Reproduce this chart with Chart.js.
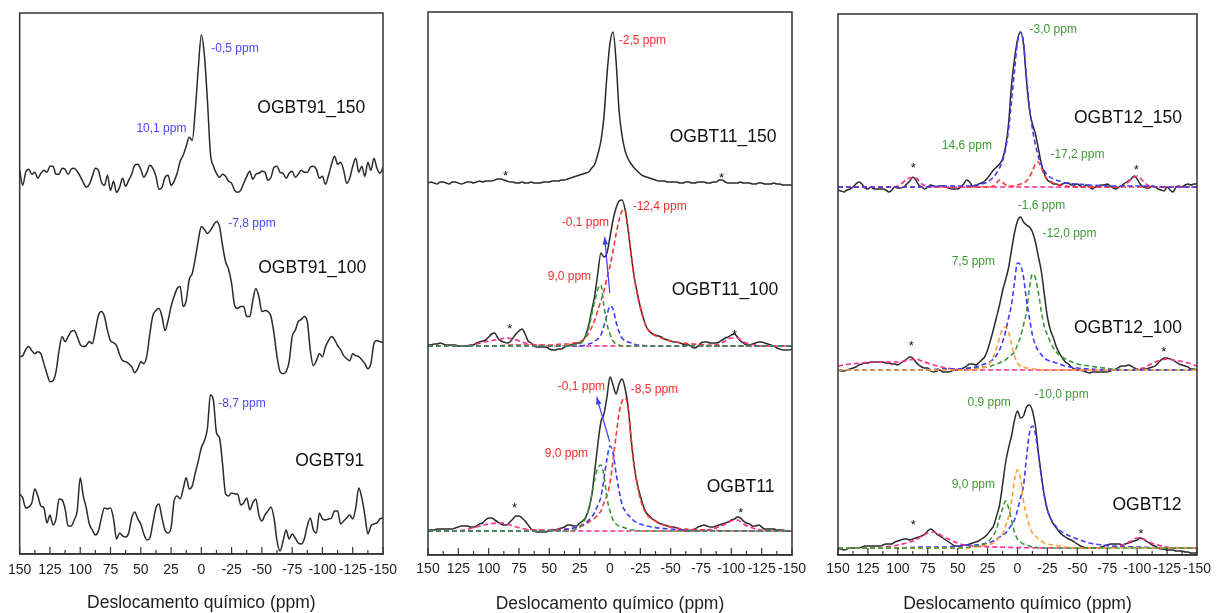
<!DOCTYPE html>
<html>
<head>
<meta charset="utf-8">
<script src="https://cdn.jsdelivr.net/npm/chart.js@4.4.1/dist/chart.umd.min.js"></script>
<style>
  body { margin: 0; background: #fff; width: 1217px; height: 613px; overflow: hidden; position: relative; }
  canvas { position: absolute; top: 0; }
</style>
</head>
<body>
<canvas id="c91"></canvas>
<canvas id="c11"></canvas>
<canvas id="c12"></canvas>
<script>
// chemical shift grid (ppm) shared by all measured spectra
const ppm = [
  150,147.5,145,142.5,140,137.5,135,132.5,130,127.5,
  125,122.5,120,117.5,115,112.5,110,107.5,105,102.5,
  100,97.5,95,92.5,90,87.5,85,82.5,80,77.5,
  75,72.5,70,67.5,65,62.5,60,57.5,55,52.5,
  50,47.5,45,42.5,40,37.5,35,32.5,30,27.5,
  25,22.5,20,17.5,15,12.5,10,7.5,5,2.5,
  0,-2.5,-5,-7.5,-10,-12.5,-15,-17.5,-20,-22.5,
  -25,-27.5,-30,-32.5,-35,-37.5,-40,-42.5,-45,-47.5,
  -50,-52.5,-55,-57.5,-60,-62.5,-65,-67.5,-70,-72.5,
  -75,-77.5,-80,-82.5,-85,-87.5,-90,-92.5,-95,-97.5,
  -100,-102.5,-105,-107.5,-110,-112.5,-115,-117.5,-120,-122.5,
  -125,-127.5,-130,-132.5,-135,-137.5,-140,-142.5,-145,-147.5,
  -150
];

// measured spectra (intensity, a.u.)
const ogbt91_150 = [
  10,-5,8,11,6,8,2,7,10,8, 14,14,6,6,12,11,6,11,12,9,
  4,-2,-7,-4,4,12,10,-2,-5,5, -10,-1,-12,-7,2,-6,0,6,15,16,
  11,3,8,15,12,4,-9,-7,3,5, -5,-1,7,19,25,34,43,40,70,112,
  145,125,80,27,14,7,3,6,4,-1, -3,-10,-12,-10,-3,4,9,1,6,7,
  9,8,0,3,13,14,8,7,2,7, 9,3,6,10,8,8,13,14,11,2,
  4,-4,5,16,24,16,18,10,-3,2, 14,22,8,14,4,18,10,22,12,7,13
];
const ogbt91_100 = [
  17,18,24,27,23,20,22,20,10,0, -8,-7,2,23,37,32,37,42,43,37,
  29,27,28,32,30,43,58,62,57,43, 33,31,28,19,13,12,10,7,1,5,
  12,10,18,40,58,63,65,57,43,53, 67,77,85,87,67,73,94,100,115,133,
  147,144,140,143,148,152,147,128,112,104, 90,68,65,67,67,57,57,73,85,77,
  62,63,62,57,40,17,2,0,2,12, 37,43,52,54,57,52,23,8,13,20,
  17,27,33,37,34,28,24,18,15,13, 20,18,17,14,10,5,10,30,33,32,31
];
const ogbt91 = [
  47,43,33,34,38,52,45,35,33,18, 26,16,22,42,41,32,15,15,21,30,
  63,45,33,17,11,6,10,23,33,32, 33,22,2,8,5,4,8,23,29,22,
  17,7,1,3,18,33,37,23,11,8, 13,40,45,42,52,63,52,55,68,80,
  93,100,112,146,140,108,103,77,47,45, 48,47,47,36,38,43,31,38,42,26,
  20,26,30,34,23,0,-10,0,11,2, 7,3,-2,-3,2,15,23,11,8,28,
  22,21,22,23,30,30,17,20,23,26, 22,33,53,43,26,7,15,17,18,22,23
];
const ogbt11_150 = [
  0,1,0,-1,1,1,0,-1,1,1, 0,-1,0,1,1,0,1,2,1,2,
  2,2,3,4,4,3,2,1,1,0, 0,1,0,0,1,0,0,0,1,1,
  1,2,2,2,3,3,4,5,6,7, 8,9,10,11,15,19,29,42,66,108,
  140,151,122,72,47,32,24,19,15,12, 9,7,6,5,4,3,2,2,2,1,
  1,1,1,0,0,1,1,0,0,1, 1,1,0,0,1,1,3,3,1,0,
  0,0,0,1,0,0,0,-1,-1,0, 0,-1,-1,-1,0,-1,-1,-2,-2,-2,-2
];
const ogbt11_100 = [
  1,1,2,2,3,2,1,1,1,1, 0,0,0,0,1,1,3,4,5,6,
  9,12,13,8,5,4,3,4,8,12, 15,17,12,5,3,0,-1,-1,-1,-1,
  -3,-4,-4,-3,-3,-1,0,1,2,3, 3,5,11,21,36,51,73,93,89,93,
  109,126,138,145,146,136,116,91,69,53, 39,28,19,15,12,11,10,9,7,6,
  5,4,4,3,2,1,1,-1,-2,0, 3,4,4,3,3,3,4,6,8,9,
  11,12,9,5,3,1,1,2,3,4, 4,3,2,1,0,-2,-3,-4,-4,-4,-3
];
const ogbt11 = [
  1,1,1,2,2,2,2,2,2,3, 4,5,5,5,4,4,5,7,8,11,
  13,13,11,9,7,6,6,9,12,15, 15,13,10,6,2,0,-1,-1,-1,-1,
  0,1,1,2,3,4,6,6,5,5, 8,10,14,22,36,61,87,109,117,134,
  154,146,137,147,152,142,124,91,64,47, 35,25,18,15,12,10,8,7,6,5,
  4,4,3,2,1,0,0,1,2,4, 5,6,5,4,4,5,6,7,8,9,
  11,12,14,13,10,8,7,5,5,6, 4,2,2,2,2,1,1,1,0,0,0
];
const ogbt12_150 = [
  -3,-4,-5,-3,-2,0,3,5,3,-1, -2,0,-2,-2,-2,-2,-3,-5,-3,0,
  -1,-1,0,3,6,10,7,2,0,-2, 0,2,1,0,1,1,0,-1,-2,-2,
  -2,0,3,7,5,1,1,3,4,6, 9,13,17,20,23,28,40,63,102,128,
  147,155,143,107,77,63,53,38,23,13, 7,5,3,3,2,3,4,4,2,2,
  3,1,0,2,0,-2,0,1,2,2, 3,1,-1,-2,0,2,4,6,8,11,
  8,3,0,-1,-1,1,0,-2,-3,-4, 0,-3,-5,0,1,0,2,3,2,3,3
];
const ogbt12_100 = [
  0,-1,-1,0,1,2,3,5,6,7, 7,8,8,8,8,8,7,7,6,6,
  5,7,9,11,13,12,8,5,3,2, 2,-1,-2,-1,0,-2,-2,-2,-1,0,
  0,1,2,4,6,6,5,7,10,13, 20,30,41,53,65,79,90,102,120,137,
  149,153,148,145,143,138,128,113,98,75, 53,40,32,23,17,12,8,6,3,1,
  0,0,-1,-2,-3,-2,-2,-2,-2,-2, -2,-1,0,1,3,4,4,5,4,2,
  1,0,1,1,2,3,4,7,10,12, 12,11,10,8,6,5,4,3,1,1,0
];
const ogbt12 = [
  -1,-1,-2,-1,0,0,0,0,1,2, 2,2,2,2,2,3,4,4,4,6,
  7,8,9,9,8,9,10,11,12,14, 17,19,17,14,12,10,8,6,4,2,
  2,2,3,3,4,5,6,7,9,11, 14,18,22,32,43,63,85,100,112,128,
  137,130,132,141,143,137,122,95,72,52, 38,30,24,20,16,13,11,9,8,6,
  4,2,1,0,0,0,0,0,1,2, 3,4,4,4,4,3,4,5,6,7,
  8,10,9,7,5,3,2,0,-1,-1, -2,-2,-2,-3,-3,-3,-4,-4,-5,-5,-5
];

// deconvolution components
const fitPpm = [150,125,100,80,60,50,40,35,30,25, 20,17.5,15,12.5,10,7.5,5,2.5,0,-2.5,
  -5,-7.5,-10,-12.5,-15,-17.5,-20,-22.5,-25,-30, -35,-40,-50,-60,-80,-100,-125,-150];
const fit11_100_q9 = [0,0,0,0,0,0,0,0,1,2, 10,18,32,45,57,61,40,22,12,5, 2,1,0,0,0,0,0,0,0,0, 0,0,0,0,0,0,0,0];
const fit11_100_q0 = [0,0,0,0,0,0,0,0,0,0, 1,2,3,5,7,11,20,31,40,37, 24,14,8,5,4,3,2,1,1,0, 0,0,0,0,0,0,0,0];
const fit11_100_q12 = [0,0,0,1,1,1,2,2,3,4, 9,13,19,26,36,45,55,68,80,95, 112,126,135,136,115,90,68,52,38,19, 12,9,5,3,1,0,0,0];
const fit11_q9 = [0,0,0,0,0,0,0,0,1,4, 13,22,36,52,63,66,55,33,20,11, 7,5,4,3,2,1,1,0,0,0, 0,0,0,0,0,0,0,0];
const fit11_q0 = [0,0,0,0,0,0,1,2,3,5, 8,11,14,19,26,34,52,72,85,78, 58,40,26,20,16,13,10,8,7,5, 4,3,2,1,0,0,0,0];
const fit11_q8 = [0,0,0,0,1,1,2,2,3,4, 7,9,11,13,16,20,28,36,48,71, 95,118,130,133,122,92,66,46,32,17, 12,8,4,2,1,0,0,0];
const fit12_150_q3 = [0,0,0,0,1,1,1,2,3,5, 10,14,19,26,38,57,86,116,145,155, 145,110,80,58,42,30,22,16,12,8, 6,4,3,2,1,1,0,0];
const fit12_150_q17 = [0,0,0,0,0,0,0,0,0,0, 1,4,7,5,2,1,1,1,2,3, 4,6,10,16,23,25,19,12,8,4, 2,1,0,0,0,0,0,0];
const fit12_100_q7 = [0,0,0,0,0,0,0,1,2,4, 14,22,32,41,43,38,26,14,7,4, 3,2,2,1,1,0,0,0,0,0, 0,0,0,0,0,0,0,0];
const fit12_100_q1 = [0,0,0,0,1,1,2,3,5,7, 11,15,20,28,38,52,65,88,107,105, 93,70,52,35,25,19,15,12,10,8, 6,4,2,1,0,0,0,0];
const fit12_100_q12 = [0,0,0,0,1,1,2,2,3,3, 5,6,7,9,10,13,15,18,25,33, 45,58,82,96,92,77,58,43,35,22, 15,11,6,4,1,0,0,0];
const fit12_q9 = [0,0,0,0,0,0,1,2,3,6, 13,19,30,39,47,40,28,16,9,6, 4,3,2,1,1,0,0,0,0,0, 0,0,0,0,0,0,0,0];
const fit12_q1 = [0,0,0,0,0,0,0,1,2,3, 5,7,11,14,22,31,46,68,78,70, 47,33,22,15,12,9,7,5,4,3, 2,1,0,0,0,0,0,0];
const fit12_q10 = [0,0,0,1,1,2,3,3,4,5, 7,9,11,13,15,19,23,28,38,50, 62,90,115,122,114,93,70,52,38,25, 18,14,9,5,2,1,0,0];

// spinning sidebands
const sbPpm = [150,140,130,120,110,100,90,85,80,70, 60,40,-60,-80,-90,-95,-100,-105,-110,-120, -125,-130,-140,-150];
const sb11_100 = [0,0,0,0,2,5,7,8,7,3, 1,0,0,0,2,5,8,8,4,1, 0,0,0,0];
const sb11 = [0,0,0,1,4,7,8,7,5,2, 1,0,0,1,4,7,10,11,7,2, 1,0,0,0];
const sb12_150 = [0,0,0,0,0,1,9,9,3,0, 0,0,0,0,2,8,11,6,1,0, 0,0,0,0];
const sb12_100 = [4,6,7,8,8,8,10,11,9,5, 2,0,0,0,0,0,1,2,5,10, 11,10,8,4];
const sb12 = [0,0,0,0,1,3,6,8,12,16, 10,2,0,1,4,7,10,9,6,2, 1,0,0,0];

// axis tick labels
const tickValues = [150,125,100,75,50,25,0,-25,-50,-75,-100,-125,-150];

// peak assignments: [text, ppm, height]
const peaks91 = [['-0,5 ppm', -8.2, 504], ['10,1 ppm', 53.6, 425], ['-7,8 ppm', -22.3, 330], ['-8,7 ppm', -14, 150]];
const peaks11 = [['-2,5 ppm', -7.2, 514], ['-12,4 ppm', -18.7, 348], ['-0,1 ppm', 39.8, 332], ['9,0 ppm', 51.3, 278],
  ['-0,1 ppm', 43.1, 168], ['-8,5 ppm', -17.1, 165], ['9,0 ppm', 53.8, 101]];
const peaks12 = [['-3,0 ppm', -10.1, 525], ['14,6 ppm', 63.2, 409], ['-17,2 ppm', -27.5, 400], ['-1,6 ppm', -0.3, 349],
  ['-12,0 ppm', -20.9, 321], ['7,5 ppm', 55, 293], ['0,9 ppm', 41.8, 152], ['-10,0 ppm', -14.3, 160], ['9,0 ppm', 55, 70]];
const names91 = [['OGBT91_150', -46.2, 445], ['OGBT91_100', -47, 285], ['OGBT91', -77.5, 93]];
const names11 = [['OGBT11_150', -49.2, 418], ['OGBT11_100', -50.8, 265], ['OGBT11', -79.7, 68]];
const names12 = [['OGBT12_150', -47.2, 437], ['OGBT12_100', -47.2, 227], ['OGBT12', -79.4, 50]];
const stars11 = [[86, 383], [-92, 381], [82.7, 230], [-102.7, 224], [78.6, 51], [-107.7, 46]];
const stars12 = [[87.1, 391], [-99.2, 389], [88.8, 213], [-122.2, 207], [87.1, 34], [-103.3, 25]];
const arrows11 = [[[0.2, 262], [4.4, 318]], [[0.2, 113], [11, 158]]];

const FONT = '"Liberation Sans", Arial, sans-serif';
const C = { line: '#2a2a2a', green: '#3c9a3c', blue: '#3d3dff', red: '#ff3333', pink: '#ff2a90', orange: '#ffa133' };

function pts(xs, vs, base) {
  return xs.map((x, i) => ({ x: x, y: base + vs[i] }));
}
function trace(vs, base) {
  return { data: pts(ppm, vs, base), borderColor: C.line, borderWidth: 1.5, order: 2 };
}
function comp(xs, vs, base, color, order) {
  return { data: pts(xs, vs, base), borderColor: color, borderWidth: 1.6, borderDash: [5, 3], order: order || 1 };
}

// box around the plot area plus inward ticks every 12.5 ppm
const frame = {
  id: 'frame',
  afterDatasetsDraw(chart) {
    const { ctx, chartArea: a } = chart;
    const x = chart.scales.x;
    ctx.save();
    ctx.strokeStyle = '#333';
    ctx.lineWidth = 1.5;
    ctx.strokeRect(a.left, a.top, a.right - a.left, a.bottom - a.top);
    ctx.lineWidth = 1.2;
    for (let v = -150; v <= 150; v += 12.5) {
      const px = x.getPixelForValue(v);
      const len = v % 25 === 0 ? 7 : 4;
      ctx.beginPath();
      ctx.moveTo(px, a.bottom);
      ctx.lineTo(px, a.bottom - len);
      ctx.stroke();
    }
    ctx.restore();
  }
};

function notes(peaks, color, names, stars, arrows) {
  return {
    id: 'notes',
    afterDatasetsDraw(chart) {
      const { ctx } = chart;
      const x = chart.scales.x, y = chart.scales.y;
      ctx.save();
      ctx.textBaseline = 'middle';
      ctx.textAlign = 'left';
      ctx.fillStyle = color;
      ctx.font = '12px ' + FONT;
      peaks.forEach(p => ctx.fillText(p[0], x.getPixelForValue(p[1]), y.getPixelForValue(p[2])));
      ctx.fillStyle = '#111';
      ctx.font = '17.5px ' + FONT;
      names.forEach(n => ctx.fillText(n[0], x.getPixelForValue(n[1]), y.getPixelForValue(n[2])));
      ctx.textAlign = 'center';
      ctx.font = '13px ' + FONT;
      (stars || []).forEach(s => ctx.fillText('*', x.getPixelForValue(s[0]), y.getPixelForValue(s[1]) + 4));
      ctx.strokeStyle = C.blue;
      ctx.fillStyle = C.blue;
      ctx.lineWidth = 1.2;
      (arrows || []).forEach(ar => {
        const x0 = x.getPixelForValue(ar[0][0]), y0 = y.getPixelForValue(ar[0][1]);
        const x1 = x.getPixelForValue(ar[1][0]), y1 = y.getPixelForValue(ar[1][1]);
        const ang = Math.atan2(y1 - y0, x1 - x0);
        ctx.beginPath();
        ctx.moveTo(x0, y0);
        ctx.lineTo(x1, y1);
        ctx.stroke();
        ctx.beginPath();
        ctx.moveTo(x1, y1);
        ctx.lineTo(x1 - 8 * Math.cos(ang - 0.35), y1 - 8 * Math.sin(ang - 0.35));
        ctx.lineTo(x1 - 8 * Math.cos(ang + 0.35), y1 - 8 * Math.sin(ang + 0.35));
        ctx.closePath();
        ctx.fill();
      });
      ctx.restore();
    }
  };
}

function panel(id, geo, datasets, notePlugin) {
  const cv = document.getElementById(id);
  cv.width = geo.width;
  cv.height = 613;
  cv.style.left = geo.left + 'px';
  return new Chart(cv, {
    type: 'line',
    data: { datasets: datasets },
    plugins: [frame, notePlugin],
    options: {
      responsive: false,
      animation: false,
      events: [],
      layout: { padding: geo.pad },
      elements: { point: { radius: 0 }, line: { cubicInterpolationMode: 'monotone', fill: false } },
      plugins: { legend: { display: false }, tooltip: { enabled: false } },
      scales: {
        x: {
          type: 'linear', min: -150, max: 150, reverse: true,
          afterBuildTicks: s => { s.ticks = tickValues.map(v => ({ value: v })); },
          afterFit: s => { s.height = 58; },
          ticks: { autoSkip: false, maxRotation: 0, padding: geo.tickPad, color: '#1e1e1e',
                   font: { family: FONT, size: 14 }, callback: v => String(v) },
          grid: { drawOnChartArea: false, drawTicks: false },
          border: { display: true, color: '#333', width: 1.5 },
          title: { display: true, text: 'Deslocamento químico (ppm)', color: '#1e1e1e',
                   font: { family: FONT, size: 17.5, lineHeight: 1 }, padding: { top: 0, bottom: 0 } }
        },
        y: { display: false, min: 0, max: geo.ymax }
      }
    }
  });
}

panel('c91', { left: 0, width: 413, pad: { left: 19, right: 30, top: 13, bottom: 1 }, ymax: 540, tickPad: 8 }, [
  trace(ogbt91_150, 373),
  trace(ogbt91_100, 180),
  trace(ogbt91, 13)
], notes(peaks91, '#4848ff', names91));

panel('c11', { left: 398, width: 424, pad: { left: 30, right: 30, top: 12, bottom: 0 }, ymax: 543, tickPad: 6 }, [
  trace(ogbt11_150, 372),
  trace(ogbt11_100, 209),
  comp(fitPpm, fit11_100_q9, 209, C.green),
  comp(fitPpm, fit11_100_q0, 209, C.blue),
  comp(fitPpm, fit11_100_q12, 209, C.red),
  comp(sbPpm, sb11_100, 209, C.pink, 0),
  trace(ogbt11, 24),
  comp(fitPpm, fit11_q9, 24, C.green),
  comp(fitPpm, fit11_q0, 24, C.blue),
  comp(fitPpm, fit11_q8, 24, C.red),
  comp(sbPpm, sb11, 24, C.pink, 0)
], notes(peaks11, '#ff2b2b', names11, stars11, arrows11));

panel('c12', { left: 808, width: 409, pad: { left: 30, right: 15, top: 14, bottom: 0 }, ymax: 541, tickPad: 6 }, [
  trace(ogbt12_150, 368),
  comp(fitPpm, fit12_150_q3, 368, C.blue),
  comp(fitPpm, fit12_150_q17, 368, C.red),
  comp(sbPpm, sb12_150, 368, C.pink, 0),
  trace(ogbt12_100, 185),
  comp(fitPpm, fit12_100_q7, 185, C.orange),
  comp(fitPpm, fit12_100_q1, 185, C.blue),
  comp(fitPpm, fit12_100_q12, 185, C.green),
  comp(sbPpm, sb12_100, 185, C.pink, 0),
  trace(ogbt12, 7),
  comp(fitPpm, fit12_q9, 7, C.green),
  comp(fitPpm, fit12_q1, 7, C.orange),
  comp(fitPpm, fit12_q10, 7, C.blue),
  comp(sbPpm, sb12, 7, C.pink, 0)
], notes(peaks12, '#3f9b36', names12, stars12));
</script>
</body>
</html>
